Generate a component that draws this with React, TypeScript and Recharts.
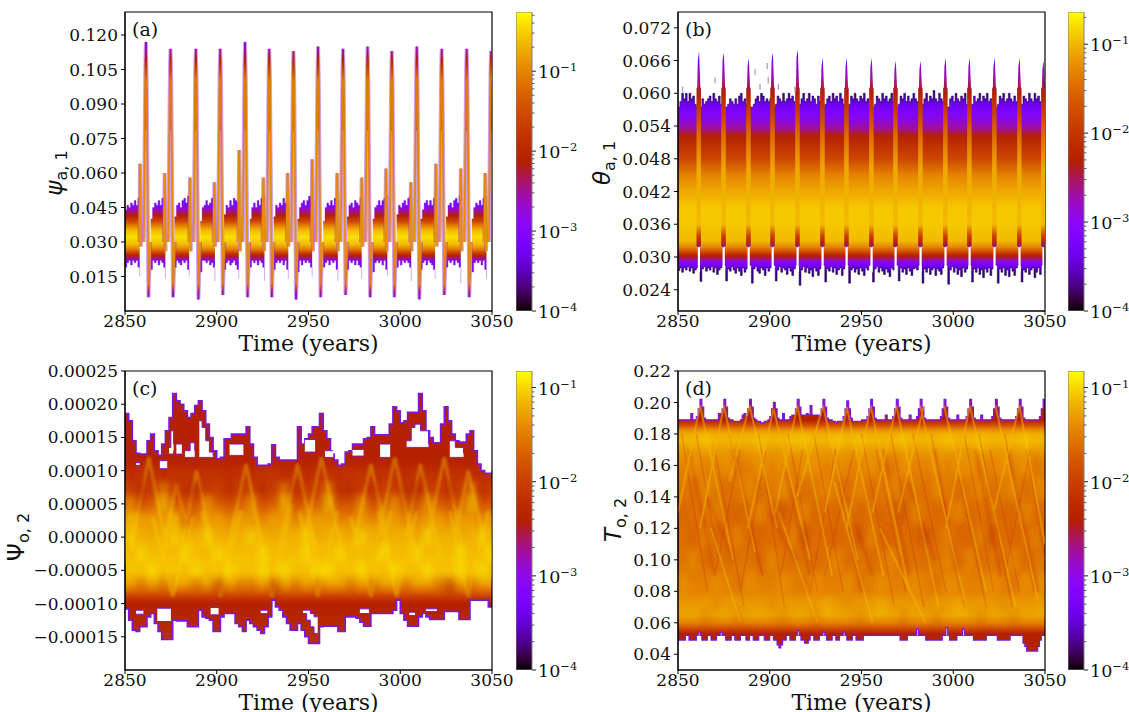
import React from "react";
import { Area, Bar, ComposedChart, Label, Line, ReferenceArea, Scatter, XAxis, YAxis } from "recharts";

const xTicks = [2850, 2900, 2950, 3000, 3050];
const serif = "DejaVu Serif";
const sans = "DejaVu Sans";

// panel (a): blob outline, one block per oscillation, null closes a block
const aBlobT = [
  2850, 2851, 2852, 2853, 2854, 2855, 2856, 2857, 2858, 2859,
  2864, 2865, 2866, 2867, 2868, 2869, 2870, 2871, 2872, 2873,
  2877, 2878, 2879, 2880, 2881, 2882, 2883, 2884, 2885, 2886,
  2891, 2892, 2893, 2894, 2895, 2896, 2897, 2898, 2899, 2900,
  2904, 2905, 2906, 2907, 2908, 2909, 2910, 2911, 2912, 2913,
  2918, 2919, 2920, 2921, 2922, 2923, 2924, 2925, 2926, 2927,
  2931, 2932, 2933, 2934, 2935, 2936, 2937, 2938, 2939, 2940,
  2944, 2945, 2946, 2947, 2948, 2949, 2950, 2951, 2952, 2953,
  2958, 2959, 2960, 2961, 2962, 2963, 2964, 2965, 2966, 2967,
  2971, 2972, 2973, 2974, 2975, 2976, 2977, 2978, 2979, 2980,
  2985, 2986, 2987, 2988, 2989, 2990, 2991, 2992, 2993, 2994,
  2998, 2999, 3000, 3001, 3002, 3003, 3004, 3005, 3006, 3007,
  3011, 3012, 3013, 3014, 3015, 3016, 3017, 3018, 3019, 3020,
  3025, 3026, 3027, 3028, 3029, 3030, 3031, 3032, 3033, 3034,
  3039, 3040, 3041, 3042, 3043, 3044, 3045, 3046, 3047, 3048,
];
const aBlobHi = [
  .044, .046, .045, .047, .046, .048, .046, .049, .050, null,
  .040, .045, .047, .046, .048, .046, .049, .047, .052, null,
  .041, .046, .047, .045, .048, .049, .047, .050, .049, null,
  .039, .045, .046, .048, .046, .047, .049, .047, .051, null,
  .042, .046, .045, .048, .046, .049, .048, .047, .050, null,
  .040, .045, .047, .045, .048, .046, .049, .050, .051, null,
  .041, .046, .045, .047, .046, .049, .047, .048, .050, null,
  .040, .045, .047, .048, .046, .048, .050, .049, .051, null,
  .039, .045, .047, .046, .048, .046, .049, .047, .050, null,
  .041, .046, .047, .045, .048, .047, .046, .049, .051, null,
  .040, .045, .046, .048, .046, .048, .049, .047, .050, null,
  .042, .046, .045, .047, .048, .046, .049, .050, .049, null,
  .040, .044, .047, .048, .046, .048, .046, .049, .052, null,
  .041, .046, .047, .045, .048, .049, .047, .050, .051, null,
  .040, .045, .047, .046, .048, .046, .049, .047, .050, null,
];
const aBlobLo = [
  .019, .021, .022, .020, .022, .021, .022, .019, .015, null,
  .018, .022, .021, .022, .020, .022, .021, .019, .014, null,
  .019, .022, .021, .020, .022, .021, .022, .018, .015, null,
  .017, .022, .022, .021, .022, .020, .021, .019, .013, null,
  .018, .021, .022, .020, .021, .022, .020, .018, .014, null,
  .019, .022, .021, .022, .020, .022, .021, .019, .013, null,
  .018, .021, .022, .021, .022, .020, .022, .018, .014, null,
  .017, .022, .020, .022, .021, .022, .021, .019, .015, null,
  .019, .021, .022, .020, .022, .021, .022, .018, .013, null,
  .018, .022, .021, .022, .020, .022, .020, .019, .014, null,
  .017, .021, .022, .021, .022, .020, .022, .018, .015, null,
  .019, .022, .020, .022, .021, .022, .021, .019, .013, null,
  .018, .021, .022, .020, .022, .021, .020, .018, .014, null,
  .019, .022, .021, .022, .020, .022, .021, .019, .012, null,
  .017, .021, .022, .021, .022, .020, .022, .018, .014, null,
];

// panel (a): the thin fast excursion of each oscillation
const aRidgeT = [
  2860.2, 2860.7, 2861.1, 2861.4, 2861.8, 2862.2, 2862.8, 2863.7, 2863.8,
  2873.6, 2874.1, 2874.5, 2874.8, 2875.2, 2875.6, 2876.2, 2877.1, 2877.2,
  2887.4, 2887.9, 2888.3, 2888.6, 2889.0, 2889.4, 2890.0, 2890.9, 2891.0,
  2900.7, 2901.2, 2901.6, 2901.9, 2902.3, 2902.7, 2903.3, 2904.2, 2904.3,
  2914.2, 2914.7, 2915.1, 2915.4, 2915.8, 2916.2, 2916.8, 2917.7, 2917.8,
  2927.4, 2927.9, 2928.3, 2928.6, 2929.0, 2929.4, 2930.0, 2930.9, 2931.0,
  2940.6, 2941.1, 2941.5, 2941.8, 2942.2, 2942.6, 2943.2, 2944.1, 2944.2,
  2954.0, 2954.5, 2954.9, 2955.2, 2955.6, 2956.0, 2956.6, 2957.5, 2957.6,
  2967.6, 2968.1, 2968.5, 2968.8, 2969.2, 2969.6, 2970.2, 2971.1, 2971.2,
  2981.0, 2981.5, 2981.9, 2982.2, 2982.6, 2983.0, 2983.6, 2984.5, 2984.6,
  2994.2, 2994.7, 2995.1, 2995.4, 2995.8, 2996.2, 2996.8, 2997.7, 2997.8,
  3007.8, 3008.3, 3008.7, 3009.0, 3009.4, 3009.8, 3010.4, 3011.3, 3011.4,
  3021.4, 3021.9, 3022.3, 3022.6, 3023.0, 3023.4, 3024.0, 3024.9, 3025.0,
  3035.0, 3035.5, 3035.9, 3036.2, 3036.6, 3037.0, 3037.6, 3038.5, 3038.6,
  3048.3, 3048.8, 3049.2, 3049.5, 3049.8, 3050.0, 3050.0, 3050.0, 3050.0,
];
const aRidgeV = [
  .030, .070, .105, .117, .100, .060, .006, .030, null,
  .030, .070, .104, .114, .100, .060, .006, .030, null,
  .030, .070, .104, .114, .100, .060, .005, .030, null,
  .030, .070, .104, .114, .100, .060, .007, .030, null,
  .030, .070, .105, .117, .100, .060, .006, .030, null,
  .030, .070, .104, .114, .100, .060, .006, .030, null,
  .030, .070, .103, .113, .100, .060, .005, .030, null,
  .030, .070, .104, .115, .100, .060, .006, .030, null,
  .030, .070, .104, .114, .100, .060, .007, .030, null,
  .030, .070, .104, .115, .100, .060, .006, .030, null,
  .030, .070, .103, .113, .100, .060, .006, .030, null,
  .030, .070, .104, .115, .100, .060, .005, .030, null,
  .030, .070, .104, .114, .100, .060, .007, .030, null,
  .030, .070, .104, .114, .100, .060, .006, .030, null,
  .030, .070, .104, .113, .100, null, null, null, null,
];
const aCoreT = [
  2860.6, 2861.4, 2862.2, 2862.3,
  2874.0, 2874.8, 2875.6, 2875.7,
  2887.8, 2888.6, 2889.4, 2889.5,
  2901.1, 2901.9, 2902.7, 2902.8,
  2914.6, 2915.4, 2916.2, 2916.3,
  2927.8, 2928.6, 2929.4, 2929.5,
  2941.0, 2941.8, 2942.6, 2942.7,
  2954.4, 2955.2, 2956.0, 2956.1,
  2968.0, 2968.8, 2969.6, 2969.7,
  2981.4, 2982.2, 2983.0, 2983.1,
  2994.6, 2995.4, 2996.2, 2996.3,
  3008.2, 3009.0, 3009.8, 3009.9,
  3021.8, 3022.6, 3023.4, 3023.5,
  3035.4, 3036.2, 3037.0, 3037.1,
  3048.7, 3049.5, 3050.0, 3050.0,
];
const aCoreHi = [
  .096, .112, .096, null, .096, .110, .096, null, .096, .110, .096, null,
  .096, .110, .096, null, .096, .112, .096, null, .096, .110, .096, null,
  .096, .109, .096, null, .096, .111, .096, null, .096, .110, .096, null,
  .096, .111, .096, null, .096, .109, .096, null, .096, .111, .096, null,
  .096, .110, .096, null, .096, .110, .096, null, .096, .109, .096, null,
];
const aCoreLo = [
  .080, .078, .080, null, .080, .078, .080, null, .080, .078, .080, null,
  .080, .078, .080, null, .080, .078, .080, null, .080, .078, .080, null,
  .080, .078, .080, null, .080, .078, .080, null, .080, .078, .080, null,
  .080, .078, .080, null, .080, .078, .080, null, .080, .078, .080, null,
  .080, .078, .080, null, .080, .078, .080, null, .080, .078, .080, null,
];
const aTowerT = [
  2857.8, 2858.2, 2858.7, 2859.0,
  2871.2, 2871.6, 2872.1, 2872.4,
  2885.0, 2885.4, 2885.9, 2886.2,
  2898.3, 2898.7, 2899.2, 2899.5,
  2911.8, 2912.2, 2912.7, 2913.0,
  2925.0, 2925.4, 2925.9, 2926.2,
  2938.2, 2938.6, 2939.1, 2939.4,
  2951.6, 2952.0, 2952.5, 2952.8,
  2965.2, 2965.6, 2966.1, 2966.4,
  2978.6, 2979.0, 2979.5, 2979.8,
  2991.8, 2992.2, 2992.7, 2993.0,
  3005.4, 3005.8, 3006.3, 3006.6,
  3019.0, 3019.4, 3019.9, 3020.2,
  3032.6, 3033.0, 3033.5, 3033.8,
  3045.9, 3046.3, 3046.8, 3047.1,
];
const aTowerV = [
  .030, .064, .028, null, .030, .060, .026, null, .030, .058, .026, null,
  .030, .056, .028, null, .030, .070, .026, null, .030, .058, .026, null,
  .030, .060, .028, null, .030, .066, .026, null, .030, .060, .026, null,
  .030, .058, .028, null, .030, .062, .026, null, .030, .056, .026, null,
  .030, .064, .028, null, .030, .062, .026, null, .030, .060, .026, null,
];

// panel (b): one value per year
const bHi = [
  .0575, .0585, .0600, .0590, .0600, .0585, .0600, .0590, .0595, .0580,
  .0575, .0575, .0575, .0590, .0580, .0585, .0590, .0595, .0585, .0600,
  .0590, .0585, .0595, .0580, .0575, .0575, .0575, .0580, .0590, .0585,
  .0580, .0590, .0580, .0595, .0600, .0585, .0590, .0580, .0575, .0575,
  .0575, .0580, .0590, .0595, .0585, .0600, .0595, .0585, .0590, .0585,
  .0590, .0575, .0575, .0580, .0595, .0590, .0585, .0600, .0585, .0590,
  .0600, .0590, .0595, .0585, .0575, .0575, .0580, .0590, .0600, .0585,
  .0590, .0600, .0585, .0595, .0590, .0580, .0595, .0585, .0575, .0575,
  .0580, .0590, .0595, .0585, .0600, .0590, .0595, .0585, .0600, .0590,
  .0580, .0575, .0575, .0580, .0595, .0590, .0600, .0590, .0585, .0595,
  .0590, .0600, .0585, .0590, .0580, .0575, .0575, .0580, .0595, .0590,
  .0585, .0600, .0590, .0595, .0585, .0590, .0600, .0585, .0575, .0575,
  .0580, .0595, .0590, .0600, .0585, .0595, .0585, .0590, .0600, .0590,
  .0585, .0575, .0575, .0580, .0590, .0600, .0585, .0595, .0590, .0605,
  .0590, .0585, .0600, .0590, .0585, .0575, .0575, .0575, .0590, .0595,
  .0585, .0600, .0590, .0585, .0595, .0590, .0600, .0580, .0575, .0575,
  .0580, .0595, .0585, .0590, .0600, .0585, .0595, .0590, .0600, .0585,
  .0590, .0580, .0575, .0575, .0580, .0595, .0590, .0600, .0585, .0590,
  .0600, .0590, .0585, .0595, .0585, .0575, .0575, .0580, .0595, .0590,
  .0585, .0600, .0590, .0585, .0600, .0590, .0595, .0585, .0580, .0575,
  .0575,
];
const bLo = [
  .0275, .0280, .0272, .0280, .0276, .0282, .0274, .0280, .0270, .0276,
  .0280, .0285, .0255, .0278, .0282, .0274, .0280, .0276, .0282, .0272,
  .0280, .0268, .0276, .0280, .0285, .0285, .0256, .0278, .0274, .0282,
  .0276, .0270, .0280, .0274, .0266, .0280, .0272, .0278, .0285, .0285,
  .0252, .0278, .0282, .0274, .0270, .0280, .0276, .0266, .0280, .0274,
  .0280, .0285, .0285, .0256, .0276, .0282, .0272, .0280, .0276, .0268,
  .0280, .0274, .0266, .0278, .0285, .0285, .0248, .0276, .0282, .0272,
  .0280, .0270, .0276, .0264, .0280, .0274, .0266, .0278, .0285, .0285,
  .0254, .0278, .0274, .0282, .0272, .0280, .0268, .0276, .0280, .0266,
  .0278, .0285, .0285, .0252, .0276, .0280, .0272, .0278, .0268, .0280,
  .0274, .0266, .0280, .0276, .0285, .0285, .0254, .0278, .0282, .0272,
  .0280, .0274, .0268, .0278, .0272, .0264, .0280, .0276, .0285, .0285,
  .0256, .0280, .0272, .0278, .0268, .0280, .0274, .0266, .0278, .0280,
  .0276, .0285, .0285, .0252, .0278, .0272, .0280, .0268, .0276, .0280,
  .0266, .0278, .0274, .0268, .0280, .0285, .0285, .0250, .0276, .0282,
  .0272, .0280, .0268, .0276, .0264, .0280, .0272, .0278, .0285, .0285,
  .0254, .0278, .0272, .0280, .0268, .0276, .0262, .0278, .0272, .0280,
  .0266, .0278, .0285, .0285, .0252, .0278, .0272, .0280, .0266, .0276,
  .0264, .0280, .0274, .0266, .0280, .0285, .0285, .0254, .0276, .0272,
  .0280, .0268, .0276, .0280, .0262, .0272, .0280, .0268, .0285, .0285,
  .0265,
];
// spike columns of (b): [left, shoulder, crest, right, gap]
const bSpikeT = [
  2860.3, 2860.8, 2861.5, 2862.3, 2862.4,
  2873.8, 2874.3, 2875.0, 2875.8, 2875.9,
  2887.4, 2887.9, 2888.6, 2889.4, 2889.5,
  2900.5, 2901.0, 2901.7, 2902.5, 2902.6,
  2914.1, 2914.6, 2915.3, 2916.1, 2916.2,
  2927.7, 2928.2, 2928.9, 2929.7, 2929.8,
  2940.8, 2941.3, 2942.0, 2942.8, 2942.9,
  2954.4, 2954.9, 2955.6, 2956.4, 2956.5,
  2967.5, 2968.0, 2968.7, 2969.5, 2969.6,
  2981.1, 2981.6, 2982.3, 2983.1, 2983.2,
  2994.7, 2995.2, 2995.9, 2996.7, 2996.8,
  3007.8, 3008.3, 3009.0, 3009.8, 3009.9,
  3021.4, 3021.9, 3022.6, 3023.4, 3023.5,
  3035.0, 3035.5, 3036.2, 3037.0, 3037.1,
  3048.1, 3048.6, 3049.3, 3050.0, 3050.0,
];
const bSpikeHi = [
  .0590, .0660, .0676, .0600, null,
  .0590, .0660, .0675, .0600, null,
  .0590, .0650, .0665, .0600, null,
  .0590, .0660, .0675, .0600, null,
  .0590, .0665, .0680, .0600, null,
  .0590, .0650, .0665, .0600, null,
  .0590, .0650, .0665, .0600, null,
  .0590, .0650, .0665, .0600, null,
  .0590, .0645, .0660, .0600, null,
  .0590, .0645, .0660, .0600, null,
  .0590, .0650, .0665, .0600, null,
  .0590, .0650, .0665, .0600, null,
  .0590, .0650, .0665, .0600, null,
  .0590, .0650, .0665, .0600, null,
  .0590, .0645, .0660, .0600, null,
];
const bSpikeLo = [
  .0320, .0318, .0318, .0320, null, .0320, .0318, .0318, .0320, null, .0320, .0318, .0318, .0320, null,
  .0320, .0318, .0318, .0320, null, .0320, .0318, .0318, .0320, null, .0320, .0318, .0318, .0320, null,
  .0320, .0318, .0318, .0320, null, .0320, .0318, .0318, .0320, null, .0320, .0318, .0318, .0320, null,
  .0320, .0318, .0318, .0320, null, .0320, .0318, .0318, .0320, null, .0320, .0318, .0318, .0320, null,
  .0320, .0318, .0318, .0320, null, .0320, .0318, .0318, .0320, null, .0320, .0318, .0318, .0320, null,
];
// bright core of each spike: bottom, top, gap
const bColT = [
  2861.3, 2861.3, 2861.4, 2874.8, 2874.8, 2874.9, 2888.4, 2888.4, 2888.5, 2901.5, 2901.5, 2901.6, 2915.1, 2915.1, 2915.2,
  2928.7, 2928.7, 2928.8, 2941.8, 2941.8, 2941.9, 2955.4, 2955.4, 2955.5, 2968.5, 2968.5, 2968.6, 2982.1, 2982.1, 2982.2,
  2995.7, 2995.7, 2995.8, 3008.8, 3008.8, 3008.9, 3022.4, 3022.4, 3022.5, 3036.0, 3036.0, 3036.1, 3049.1, 3049.1, 3049.2,
];
const bColV = [
  .032, .061, null, .032, .061, null, .032, .061, null, .032, .061, null, .032, .061, null,
  .032, .061, null, .032, .061, null, .032, .061, null, .032, .061, null, .032, .061, null,
  .032, .061, null, .032, .061, null, .032, .061, null, .032, .061, null, .032, .061, null,
];
const bSlitT = [
  2860.8, 2862.0, 2862.1, 2874.3, 2875.5, 2875.6, 2887.9, 2889.1, 2889.2, 2901.0, 2902.2, 2902.3,
  2914.6, 2915.8, 2915.9, 2928.2, 2929.4, 2929.5, 2941.3, 2942.5, 2942.6, 2954.9, 2956.1, 2956.2,
  2968.0, 2969.2, 2969.3, 2981.6, 2982.8, 2982.9, 2995.2, 2996.4, 2996.5, 3008.3, 3009.5, 3009.6,
  3021.9, 3023.1, 3023.2, 3035.5, 3036.7, 3036.8, 3048.6, 3049.8, 3049.9,
];
const bStrayT = [2852.5, 2870.2, 2892, 2894.7, 2899.2, 2904.7, 2913.7, 2898.6];
const bStrayV = [.0607, .0624, .0639, .0612, .0624, .0612, .0607, .0650];

// panel (c): 2-year bins, values in units of 1e-5
const cT = [
  2850, 2852, 2854, 2856, 2858, 2860, 2862, 2864, 2866, 2868, 2870, 2872, 2874, 2876, 2878, 2880, 2882,
  2884, 2886, 2888, 2890, 2892, 2894, 2896, 2898, 2900, 2902, 2904, 2906, 2908, 2910, 2912, 2914, 2916,
  2918, 2920, 2922, 2924, 2926, 2928, 2930, 2932, 2934, 2936, 2938, 2940, 2942, 2944, 2946, 2948, 2950,
  2952, 2954, 2956, 2958, 2960, 2962, 2964, 2966, 2968, 2970, 2972, 2974, 2976, 2978, 2980, 2982, 2984,
  2986, 2988, 2990, 2992, 2994, 2996, 2998, 3000, 3002, 3004, 3006, 3008, 3010, 3012, 3014, 3016, 3018,
  3020, 3022, 3024, 3026, 3028, 3030, 3032, 3034, 3036, 3038, 3040, 3042, 3044, 3046, 3048, 3050,
];
const cTop = [
  18.6, 17.5, 14.5, 12.6, 12.5, 12.5, 14.5, 15.5, 13, 12.3, 14, 16, 18, 21.6, 20.5, 20, 19,
  18, 18.6, 19.8, 20.5, 19, 17, 15, 13, 11.8, 12, 14.8, 14.8, 15.5, 15.5, 15.5, 15.5, 16.6,
  14, 12, 10.8, 10.8, 10.8, 11, 13.9, 12, 11.6, 11.6, 11.6, 11.6, 11.6, 16.6, 14, 14.8, 15.5,
  16.6, 16.6, 18.6, 16, 14.8, 12.5, 11.6, 10.8, 11, 12.8, 13, 14, 14, 14, 14.8, 15, 16.6,
  15.4, 15.4, 15.4, 15.4, 17, 19.6, 19, 17.2, 17.5, 18.8, 18.8, 18.8, 21.6, 19, 16, 15, 14.2,
  14.2, 17, 19.6, 17.5, 15.5, 14.5, 14.3, 14.3, 15.5, 16, 13, 11, 10, 9.6, 9.6, 10,
];
const cBottom = [
  -10.8, -12.5, -14, -14.2, -13.5, -13.5, -12, -11.5, -13, -14.2, -15.4, -15.4, -15.4, -12.5, -12.6, -12.6, -12.6,
  -13.5, -13.5, -13.5, -11, -12, -12.2, -12.5, -14.2, -14.2, -12, -11.5, -11.5, -11.5, -13, -13.5, -14.2, -12.5,
  -13, -13.5, -14, -14.5, -13.5, -12, -9.5, -10.5, -11, -12, -13, -14, -14, -13, -14, -15, -16,
  -16, -16, -13.5, -13.4, -13.4, -13.4, -13.4, -14.2, -14.2, -12, -12, -12, -12.2, -12.8, -13.4, -13.4, -11.5,
  -11.5, -11.5, -11.5, -11.5, -11.5, -11, -9.5, -11.5, -12.5, -13.4, -13.4, -13.4, -12, -11.5, -12, -12.4, -12.4,
  -12.4, -12.4, -11.2, -11.2, -11.2, -11.2, -12.4, -12.4, -12.4, -9.5, -9.5, -9.5, -9.5, -9.5, -10.5, -10.5,
];
// white gaps between the tracks of (c): each block [t, low, high], null closes it
const cHoleT = [
  2856, 2858, 2858.1, 2869, 2873, 2873.1, 2874, 2875, 2876.5, 2876.6, 2878, 2881, 2881.1, 2882.7, 2885.5, 2888, 2888.1,
  2890.5, 2892, 2894, 2896, 2898, 2898.1, 2907, 2914.5, 2914.6, 2948, 2953.6, 2953.7, 2959, 2963.5, 2963.6,
  2974, 2980, 2980.1, 2989, 2994.5, 2994.6, 3003.5, 3006, 3008, 3011, 3015.4, 3015.5, 3027, 3030, 3034.5, 3034.6,
  2867.6, 2875, 2875.1, 2896.7, 2901, 2901.1, 2924, 2927.5, 2927.6, 2947, 2949, 2951, 2953, 2955, 2955.1,
  2978, 2983, 2983.1, 3005, 3008, 3008.1, 2856, 2860, 2860.1, 3014, 3020, 3020.1,
];
const cHoleLo = [
  10.8, 10.8, null, 10.3, 10.3, null, 12.5, 12.5, 13, null, 12.5, 12.5, null, 12, 12, 12, null,
  12, 12, 12, 12, 12, null, 12.3, 12.3, null, 12.8, 12.8, null, 12, 12, null,
  12.2, 12.2, null, 12, 12, null, 13.5, 13.5, 13.5, 13.5, 13.5, null, 12, 12, 12, null,
  -12.7, -12.7, null, -11.7, -11.7, null, -11.5, -11.5, null, -11.5, -12.5, -13.5, -14.5, -14.5, null,
  -11.5, -11.5, null, -11.8, -11.8, null, -11.6, -11.6, null, -11.2, -11.2, null,
];
const cHoleHi = [
  11.2, 11.2, null, 11.5, 11.5, null, 13.5, 16, 14, null, 14, 14, null, 13, 14.2, 13, null,
  17.5, 16.5, 14.5, 12.8, 12.2, null, 14, 14, null, 14.7, 14.7, null, 13, 13, null,
  13.2, 13.2, null, 14, 14, null, 14.5, 16.5, 17, 16, 14, null, 14.5, 13.5, 12.6, null,
  -10.7, -10.7, null, -10.6, -10.6, null, -11, -11, null, -11, -11, -11.5, -12, -12, null,
  -10.8, -10.8, null, -11.3, -11.3, null, -11, -11, null, -10.8, -10.8, null,
];
const cGlowT = [
  2863, 2853, 2853, 2863, 2873, 2873, 2878, 2870, 2870, 2878, 2888, 2888, 2889, 2881, 2881, 2889, 2899, 2899,
  2916, 2905, 2905, 2916, 2927, 2927, 2944, 2934, 2934, 2944, 2955, 2955, 2957, 2948, 2948, 2957, 2969, 2969,
  2984, 2974, 2974, 2984, 2995, 2995, 2997, 2988, 2988, 2997, 3008, 3008, 3011, 3003, 3003, 3011, 3022, 3022,
  3024, 3015, 3015, 3024, 3035, 3035, 3037, 3029, 3029, 3037, 3048, 3048,
  2876, 2865, 2865, 2876, 2887, 2887, 2902, 2892, 2892, 2902, 2913, 2913, 2930, 2920, 2920, 2930, 2941, 2941,
  2955, 2945, 2945, 2955, 2966, 2966, 2984, 2973, 2973, 2984, 2995, 2995, 3037, 3027, 3027, 3037, 3048, 3048,
  2998, 2988, 2988, 2998, 3009, 3009,
];
const cGlowV = [
  12, -2, null, 12, -2, null, 8, -3, null, 8, -3, null, 10, -1, null, 10, -3, null,
  11, -3, null, 11, -4, null, 11, -2, null, 11, -3, null, 12, 0, null, 12, -3, null,
  11, -2, null, 11, -3, null, 12, 0, null, 12, -2, null, 11, 0, null, 11, -3, null,
  12, 0, null, 12, -3, null, 10, -1, null, 10, -3, null,
  -9, 3, null, -9, 3, null, -9, 4, null, -9, 4, null, -9, 5, null, -9, 5, null,
  -9, 4, null, -9, 4, null, -9, 3, null, -9, 4, null, -9, 4, null, -9, 4, null,
  -9, 4, null, -9, 4, null,
];
const patchCols = [
  2853, 2859, 2865, 2871, 2877, 2883, 2889, 2895, 2901, 2907, 2913, 2919, 2925, 2931, 2937, 2943, 2949,
  2955, 2961, 2967, 2973, 2979, 2985, 2991, 2997, 3003, 3009, 3015, 3021, 3027, 3033, 3039, 3045, 3049,
];
// blotches of (c), rows top to bottom: minus is darker, plus is brighter than the ramp
const cPatchRows = [9, 7, 5, 2.5, 0, -2.5, -5, -7.5];
const cPatches = [
  [0, -1, -1, 0, -1, -1, 0, -1, -1, 0, -1, 0, -1, -1, 0, -1, 0, -1, -1, 0, -1, -1, 0, -1, -1, 0, -1, -1, 0, -1, -1, 0, 0, 0],
  [-1, -2, -1, 1, -1, -2, -2, 0, -1, -2, -1, 0, -2, -1, 1, -2, -1, -1, 1, -2, -2, 0, -2, -1, 0, -2, -2, 0, -1, -2, -1, 1, -2, -1],
  [1, -1, 0, 2, 0, -1, -1, 1, 0, -1, 0, 1, -1, 0, 2, -1, 0, 0, 2, -1, -1, 1, -1, 0, 1, -1, -1, 1, 0, -1, 0, 2, -1, 0],
  [2, 1, 1, 1, 2, -1, 0, 1, 1, 0, 1, 1, 0, 1, 1, 0, 1, 1, 1, 0, 0, 1, 0, 1, 1, 0, 0, 1, 1, 0, 1, 1, 0, 1],
  [2, 1, 0, 1, 2, 0, 1, 2, 1, 0, 1, 2, 1, 0, 1, 1, 2, 0, 1, 1, 0, 2, 1, 0, 1, 1, 0, 2, 1, 1, 0, 1, 2, 1],
  [1, 2, 1, 0, 1, 2, 1, 1, 2, 1, 0, 1, 2, 1, 1, 0, 2, 1, 1, 2, 1, 1, 0, 2, 1, 1, 2, 1, 0, 1, 2, 1, 1, 2],
  [0, 1, 2, 1, 0, 1, 2, 1, 1, 2, 1, 1, 2, 1, 2, 1, 1, 2, 2, 1, 1, 2, 1, 1, 2, 1, 1, 2, 1, 1, 2, 1, 2, 1],
  [0, -1, 0, -1, 0, 0, -1, 0, -2, 0, -1, -1, 0, -2, 0, -1, 0, -1, 0, 0, -1, 0, -1, 0, 0, -1, 0, 0, -1, -2, 0, -1, 0, 0],
];

// panel (d): one value per year
const dTop = [
  .189, .189, .189, .189, .189, .189, .189, .193, .189, .189,
  .191, .196, .202, .197, .190, .189, .189, .189, .189, .189,
  .189, .189, .193, .193, .196, .202, .197, .190, .189, .189,
  .188, .188, .188, .188, .189, .192, .193, .191, .196, .202,
  .197, .190, .189, .188, .188, .187, .187, .188, .188, .189,
  .191, .196, .200, .196, .190, .189, .189, .193, .189, .189,
  .189, .191, .192, .192, .196, .202, .197, .192, .192, .192,
  .193, .192, .198, .192, .192, .192, .192, .191, .196, .202,
  .197, .190, .189, .189, .188, .188, .187, .188, .188, .188,
  .191, .196, .201, .196, .190, .188, .188, .188, .188, .188,
  .189, .189, .189, .191, .196, .202, .197, .190, .189, .189,
  .189, .189, .189, .192, .189, .189, .189, .191, .196, .202,
  .197, .190, .189, .189, .189, .189, .192, .189, .189, .189,
  .191, .196, .202, .197, .190, .189, .189, .189, .189, .189,
  .189, .189, .189, .191, .196, .202, .197, .190, .189, .189,
  .189, .189, .192, .189, .189, .189, .189, .191, .196, .202,
  .197, .190, .189, .189, .189, .192, .189, .189, .189, .189,
  .189, .191, .196, .202, .197, .190, .189, .189, .189, .189,
  .189, .189, .189, .189, .191, .196, .202, .197, .190, .189,
  .189, .189, .189, .189, .189, .189, .189, .191, .196, .202,
  .198,
];
const dBottom = [
  .049, .049, .049, .049, .052, .052, .049, .049, .049, .049,
  .052, .054, .052, .049, .049, .049, .052, .052, .049, .049,
  .049, .052, .052, .054, .052, .052, .049, .049, .049, .052,
  .052, .049, .049, .049, .052, .052, .052, .049, .049, .052,
  .052, .049, .049, .049, .052, .052, .052, .049, .049, .049,
  .052, .052, .049, .049, .046, .044, .046, .049, .049, .052,
  .052, .049, .049, .049, .052, .055, .052, .049, .049, .047,
  .047, .049, .052, .052, .049, .049, .049, .052, .052, .054,
  .052, .049, .049, .049, .052, .052, .049, .049, .052, .052,
  .054, .052, .049, .049, .049, .052, .052, .049, .049, .049,
  .049, .052, .052, .052, .052, .052, .052, .052, .052, .052,
  .052, .052, .052, .052, .052, .052, .052, .052, .052, .052,
  .052, .049, .049, .049, .049, .052, .052, .052, .052, .052,
  .056, .052, .052, .052, .052, .049, .049, .049, .049, .049,
  .049, .049, .049, .049, .052, .052, .057, .052, .049, .049,
  .049, .049, .052, .052, .052, .056, .052, .052, .052, .052,
  .052, .049, .049, .049, .049, .049, .049, .049, .052, .052,
  .052, .052, .052, .052, .049, .049, .049, .049, .049, .049,
  .049, .052, .052, .052, .052, .052, .052, .052, .047, .045,
  .042, .042, .042, .042, .042, .042, .045, .049, .052, .052,
  .052,
];
const dGlowT = [
  2862, 2850, 2850, 2862, 2880, 2880, 2875, 2862, 2862, 2875, 2892, 2892, 2889, 2878, 2878, 2889, 2904, 2904,
  2902, 2888, 2888, 2902, 2922, 2922, 2915, 2903, 2903, 2915, 2934, 2934, 2929, 2915, 2915, 2929, 2948, 2948,
  2942, 2930, 2930, 2942, 2962, 2962, 2955, 2942, 2942, 2955, 2976, 2976, 2969, 2956, 2956, 2969, 2992, 2992,
  2982, 3006, 3006, 2995, 3018, 3018, 3009, 3034, 3034, 3023, 3046, 3046, 3036, 3050, 3050, 2984, 2970, 2970,
  3009, 2996, 2996, 3036, 3022, 3022, 2868, 2884, 2884, 2935, 2956, 2956, 2905, 2926, 2926, 2960, 2985, 2985,
];
const dGlowV = [
  .198, .13, null, .198, .10, null, .198, .12, null, .198, .105, null, .198, .15, null, .198, .12, null,
  .196, .12, null, .196, .10, null, .198, .13, null, .198, .09, null, .198, .14, null, .198, .10, null,
  .197, .13, null, .197, .09, null, .198, .12, null, .198, .08, null, .198, .13, null, .198, .07, null,
  .198, .075, null, .198, .08, null, .198, .07, null, .198, .075, null, .198, .11, null, .198, .13, null,
  .198, .12, null, .198, .13, null, .12, .06, null, .15, .06, null, .13, .06, null, .12, .06, null,
];
const dEmberT = [
  2856, 2870, 2870, 2880, 2896, 2896, 2908, 2922, 2922, 2935, 2950, 2950, 2962, 2976, 2976, 2990, 3004, 3004,
  3012, 3026, 3026, 3030, 3046, 3046, 2866, 2880, 2880, 2900, 2914, 2914, 2942, 2956, 2956, 2975, 2990, 2990,
];
const dEmberV = [
  .17, .09, null, .17, .09, null, .16, .09, null, .17, .08, null, .17, .09, null, .17, .08, null,
  .17, .09, null, .17, .08, null, .14, .10, null, .13, .10, null, .14, .09, null, .15, .10, null,
];
// thin hair lines of (d)
const dHairT = [
  2852, 2866, 2866, 2860, 2872, 2872, 2870, 2886, 2886, 2878, 2896, 2896, 2884, 2870, 2870, 2894, 2908, 2908,
  2898, 2884, 2884, 2910, 2926, 2926, 2918, 2906, 2906, 2924, 2940, 2940, 2936, 2922, 2922, 2946, 2930, 2930,
  2950, 2968, 2968, 2958, 2974, 2974, 2966, 2984, 2984, 2978, 2996, 2996, 2988, 3006, 3006, 3000, 3018, 3018,
  3006, 3022, 3022, 3014, 3032, 3032, 3020, 3036, 3036, 3028, 3044, 3044, 3040, 3050, 3050, 3042, 3028, 3028,
];
const dHairV = [
  .18, .08, null, .18, .10, null, .17, .07, null, .18, .09, null, .17, .09, null, .18, .07, null,
  .17, .08, null, .18, .08, null, .17, .09, null, .18, .08, null, .17, .08, null, .17, .09, null,
  .18, .07, null, .17, .08, null, .18, .07, null, .18, .08, null, .18, .07, null, .17, .07, null,
  .18, .08, null, .18, .07, null, .17, .08, null, .18, .08, null, .17, .10, null, .17, .09, null,
];
const dPatchRows = [.175, .16, .145, .13, .115, .10, .085, .07, .062];
const dPatches = [
  [1, 1, 2, 1, 1, 0, 1, 2, 1, 1, 2, 2, 1, 1, 2, 1, 2, 1, 1, 1, 2, 1, 1, 1, 2, 1, 1, 2, 1, 1, 1, 2, 1, 1],
  [0, 1, 0, 0, 1, -1, 0, 1, 0, 1, 0, 1, 1, 0, 1, 0, 0, 1, 0, -1, 1, 0, 0, 1, 0, 1, 1, 0, 0, 1, 0, 1, -1, 0],
  [0, -1, 1, 0, -1, 0, 1, -1, 0, 1, 0, -1, 0, 1, 0, -1, 1, -1, 0, 1, -1, 0, -1, 1, 0, -1, 0, 1, -1, 0, 1, -1, 0, 1],
  [-1, 0, 0, 1, -1, -1, 0, 1, -1, -2, 0, 1, -1, 0, -1, 1, -1, 0, -1, 0, -2, 1, 0, -1, 0, 1, -1, 0, 0, -1, -1, 1, 0, -1],
  [0, -1, 1, -1, 0, 1, -1, -1, 0, -1, 1, -2, 0, -1, -1, 0, -2, 1, -1, -1, 0, -1, -2, 0, 1, -1, -1, 1, -2, 0, -1, 0, 1, -1],
  [0, 1, -1, 0, -1, 0, 0, -1, 1, 0, -1, 0, -1, 0, 1, -1, 0, -1, 0, 1, -1, 0, -1, 0, 1, -1, 1, -1, 0, -1, 1, -1, 0, 0],
  [1, 0, 0, 1, 0, -1, 1, 0, 0, 1, 0, -1, 1, 0, 0, 1, -1, 0, 1, 0, 0, 1, 0, -1, 1, 1, 0, 0, 1, 0, -1, 1, 0, 1],
  [1, 1, 1, 0, 1, 1, 1, 1, 0, 1, 1, 1, 1, 2, 1, 0, 1, 1, 2, 1, 1, 1, 0, 1, 1, 2, 1, 1, 1, 0, 1, 1, 1, 1],
  [0, 0, -1, 0, 0, -1, 0, 0, 0, -1, 0, 0, -1, 0, 0, 0, -1, 0, 0, 0, -1, 0, 0, -1, 0, 0, 0, -1, 0, 0, -1, 0, 0, 0],
];

const aTicks = [.015, .03, .045, .06, .075, .09, .105, .12];
const bTicks = [.024, .03, .036, .042, .048, .054, .06, .066, .072];
const cTicks = [-15, -10, -5, 0, 5, 10, 15, 20, 25];
const dTicks = [.04, .06, .08, .1, .12, .14, .16, .18, .2, .22];
const cbarTicks = [
  1e-4, 2e-4, 3e-4, 4e-4, 5e-4, 6e-4, 7e-4, 8e-4, 9e-4, 1e-3, 2e-3, 3e-3, 4e-3, 5e-3, 6e-3, 7e-3, 8e-3, 9e-3,
  1e-2, 2e-2, 3e-2, 4e-2, 5e-2, 6e-2, 7e-2, 8e-2, 9e-2, 1e-1, 2e-1, 3e-1, 4e-1, 5e-1,
];

const PLOT_TOP = 12;
const PLOT_H = 299;

const series = (ts: number[], vs: (number | null)[]) => ts.map((t, i) => ({ t, v: vs[i] }));
const bands = (ts: number[], lo: (number | null)[], hi: (number | null)[]) =>
  ts.map((t, i) => ({ t, range: hi[i] == null || lo[i] == null ? null : [lo[i], hi[i]] }));
const yearly = (vals: number[]) => vals.map((_, i) => 2850 + i);
const cells = (rows: number[], m: number[][]) =>
  rows.flatMap((v, r) => patchCols.map((t, c) => ({ t, v, shade: m[r][c] }))).filter((d) => d.shade !== 0);

function gnuplot(x: number) {
  const c = (v: number) => Math.round(255 * Math.min(1, Math.max(0, v)));
  return `rgb(${c(Math.sqrt(x))},${c(x * x * x)},${c(Math.sin(2 * Math.PI * x))})`;
}

// vertical colour ramp laid out in value space of a panel
function Ramp({ id, domain, stops }: { id: string; domain: number[]; stops: [number, string][] }) {
  const off = (v: number) => Math.min(1, Math.max(0, (domain[1] - v) / (domain[1] - domain[0])));
  return (
    <linearGradient id={id} gradientUnits="userSpaceOnUse" x1={0} x2={0} y1={PLOT_TOP} y2={PLOT_TOP + PLOT_H}>
      {stops.map(([v, col]) => (
        <stop key={v} offset={off(v)} stopColor={col} />
      ))}
    </linearGradient>
  );
}

const softDefs = (
  <>
    <filter id="soft" x="-20%" y="-20%" width="140%" height="140%">
      <feGaussianBlur stdDeviation="1.1" />
    </filter>
    <filter id="hair" x="-20%" y="-20%" width="140%" height="140%">
      <feGaussianBlur stdDeviation="0.6" />
    </filter>
    <filter id="patch" x="-60%" y="-60%" width="220%" height="220%">
      <feGaussianBlur stdDeviation="3" />
    </filter>
  </>
);

const patchFill: Record<string, [string, number]> = {
  "2": ["#fae000", 0.5],
  "1": ["#f5b800", 0.38],
  "-1": ["#c83c00", 0.32],
  "-2": ["#b42000", 0.5],
};

const patchShape = (w: number, h: number, fade: number) => (p: any) => {
  const [col, op] = patchFill[String(p.payload.shade)];
  return <rect x={p.cx - w / 2} y={p.cy - h / 2} width={w} height={h} fill={col} fillOpacity={op * fade} filter="url(#patch)" />;
};

function Axes({ domain, ticks, fmt }: { domain: number[]; ticks: number[]; fmt: (v: number) => string }) {
  const tick = { fontFamily: serif, fontSize: 17, fill: "#111" };
  return (
    <>
      <XAxis dataKey="t" type="number" domain={[2850, 3050]} ticks={xTicks} interval={0} height={49} tick={tick}
        tickSize={4} tickMargin={0} stroke="#000" allowDataOverflow>
        <Label value="Time (years)" position="insideBottom" offset={9}
          style={{ fontFamily: serif, fontSize: 22, fill: "#111" }} />
      </XAxis>
      <YAxis type="number" domain={domain} ticks={ticks} interval={0} width={125} tick={tick} tickFormatter={fmt}
        tickSize={4} tickMargin={3} stroke="#000" allowDataOverflow />
      <ReferenceArea x1={2850} x2={3050} y1={domain[0]} y2={domain[1]} fill="none" stroke="#000" strokeWidth={1.2}
        fillOpacity={0} strokeOpacity={1} />
    </>
  );
}

function Caption({ text }: { text: string }) {
  return (
    <text x={132} y={36} fontFamily={serif} fontSize={19} fill="#111">
      {text}
    </text>
  );
}

function AxisName({ x, y, main, sub, italic }: { x: number; y: number; main: string; sub: string; italic: boolean }) {
  return (
    <text transform={`translate(${x},${y}) rotate(-90)`} textAnchor="middle" fontFamily={sans} fontSize={23} fill="#111">
      <tspan fontStyle={italic ? "italic" : "normal"}>{main}</tspan>
      <tspan fontSize={16} dy={5}>{sub}</tspan>
    </text>
  );
}

function ColorBar({ left, top, vmax, id }: { left: number; top: number; vmax: number; id: string }) {
  const renderTick = (p: any) => {
    const v = p.payload.value;
    const exp = Math.log10(v);
    const major = Math.abs(exp - Math.round(exp)) < 1e-6;
    if (v > vmax) return <g />;
    return (
      <g>
        <line x1={p.x} x2={p.x + (major ? 4 : 2.5)} y1={p.y} y2={p.y} stroke="#222" strokeWidth={major ? 1 : 0.7} />
        {major && (
          <text x={p.x + 6} y={p.y + 7} fontFamily={serif} fontSize={17.5} fill="#111">
            10
            <tspan fontSize={11.5} dy={-7}>{"\u2212" + Math.abs(Math.round(exp))}</tspan>
          </text>
        )}
      </g>
    );
  };
  return (
    <div style={{ position: "absolute", left, top }}>
      <ComposedChart width={76} height={331} margin={{ top: PLOT_TOP, right: 0, bottom: 20, left: 0 }}
        data={[{ k: "bar", span: [1e-4, vmax] }]} barCategoryGap={0}>
        <defs>
          <linearGradient id={id} x1={0} x2={0} y1={1} y2={0}>
            {Array.from({ length: 41 }, (_, i) => (
              <stop key={i} offset={i / 40} stopColor={gnuplot(i / 40)} />
            ))}
          </linearGradient>
        </defs>
        <XAxis dataKey="k" hide />
        <YAxis orientation="right" scale="log" domain={[1e-4, vmax]} ticks={cbarTicks} interval={0} width={60}
          tick={renderTick} tickLine={false} axisLine={false} tickSize={0} tickMargin={0} allowDataOverflow />
        <Bar dataKey="span" fill={`url(#${id})`} stroke="#808080" strokeWidth={1} isAnimationActive={false} />
      </ComposedChart>
    </div>
  );
}

const chartProps = { width: 540, height: 360, margin: { top: PLOT_TOP, right: 48, bottom: 0, left: 0 } };
const noDots = { dot: false, activeDot: false, isAnimationActive: false, legendType: "none" as const };

function PanelA() {
  const domain = [0, 0.13];
  return (
    <div style={{ position: "absolute", left: 0, top: 0 }}>
      <ComposedChart {...chartProps} data={bands(aBlobT, aBlobLo, aBlobHi)}>
        <defs>
          <Ramp id="aBody" domain={domain} stops={[
            [.05, "#6a10e0"], [.0455, "#8004ff"], [.0435, "#a11096"], [.0415, "#b42000"], [.039, "#cd4600"],
            [.037, "#e48300"], [.035, "#f2ba00"], [.032, "#fae000"], [.029, "#f2ba00"], [.027, "#e48300"],
            [.0255, "#cd4600"], [.024, "#b42000"], [.0228, "#a11096"], [.0215, "#8004ff"], [.013, "#7a20e0"],
          ]} />
          <Ramp id="aLine" domain={domain} stops={[
            [.117, "#6a10e0"], [.113, "#a11096"], [.109, "#b42000"], [.10, "#e07a00"], [.03, "#e8900a"],
            [.012, "#e07a20"], [.008, "#a11096"], [.005, "#8004ff"],
          ]} />
          <Ramp id="aCore" domain={domain} stops={[[.112, "#cd4600"], [.106, "#e48300"], [.098, "#efa000"], [.085, "#e48300"], [.078, "#b42000"]]} />
        </defs>
        <Area dataKey="range" type="stepAfter" fill="url(#aBody)" fillOpacity={1} stroke="#7a20d0" strokeWidth={0.6} strokeOpacity={0.6}
          isAnimationActive={false} legendType="none" />
        <Line data={series(aTowerT, aTowerV)} dataKey="v" stroke="#a040d0" strokeOpacity={0.5} strokeWidth={4} {...noDots} />
        <Line data={series(aRidgeT, aRidgeV)} dataKey="v" stroke="#a040d0" strokeOpacity={0.5} strokeWidth={4} {...noDots} />
        <Line data={series(aTowerT, aTowerV)} dataKey="v" stroke="url(#aLine)" strokeWidth={2.2} {...noDots} />
        <Line data={series(aRidgeT, aRidgeV)} dataKey="v" stroke="url(#aLine)" strokeWidth={1.8} {...noDots} />
        <Area data={bands(aCoreT, aCoreLo, aCoreHi)} dataKey="range" type="linear" fill="url(#aCore)" fillOpacity={1} stroke="none"
          isAnimationActive={false} legendType="none" />
        <Axes domain={domain} ticks={aTicks} fmt={(v) => v.toFixed(3)} />
        <Caption text="(a)" />
        <AxisName x={62} y={173} main={"\u03c8"} sub="a, 1" italic />
      </ComposedChart>
    </div>
  );
}

function PanelB() {
  const domain = [0.0201, 0.0749];
  return (
    <div style={{ position: "absolute", left: 553, top: 0 }}>
      <ComposedChart {...chartProps} data={bands(yearly(bHi), bLo, bHi)}>
        <defs>
          <Ramp id="bBody" domain={domain} stops={[
            [.0605, "#3a0090"], [.059, "#5000c0"], [.058, "#7000f0"], [.0565, "#8004ff"], [.0550, "#8a08e0"], [.0535, "#a11096"], [.0522, "#b42000"],
            [.048, "#cd4600"], [.045, "#e48300"], [.042, "#efa800"], [.039, "#f5c800"], [.036, "#f5c800"], [.033, "#f2ba00"],
            [.0318, "#e48300"], [.0309, "#cd4600"], [.0302, "#b42000"], [.0295, "#a11096"], [.029, "#8004ff"], [.0282, "#7000f0"], [.0272, "#3a0090"],
          ]} />
          <Ramp id="bSpike" domain={domain} stops={[
            [.068, "#2a0060"], [.066, "#8004ff"], [.0625, "#a11096"], [.060, "#b42000"], [.056, "#cd4600"], [.05, "#e48300"],
            [.046, "#efa800"], [.036, "#f2ba00"], [.034, "#cd4600"], [.0325, "#b42000"], [.0318, "#8004ff"],
          ]} />
        </defs>
        <Area dataKey="range" type="stepAfter" fill="url(#bBody)" fillOpacity={1} stroke="#1a0030" strokeWidth={0.5}
          isAnimationActive={false} legendType="none" />
        <Area data={bands(bSlitT, bSlitT.map((_, i) => (i % 3 === 2 ? null : .0272)), bSlitT.map((_, i) => (i % 3 === 2 ? null : .0319)))}
          dataKey="range" type="linear" fill="#fff" fillOpacity={1} stroke="none" isAnimationActive={false} legendType="none" />
        <Line data={series(bColT, bColV)} dataKey="v" stroke="url(#bSpike)" strokeWidth={4.4} {...noDots} />
        <Area data={bands(bSpikeT, bSpikeLo, bSpikeHi)} dataKey="range" type="linear" fill="url(#bSpike)" fillOpacity={1} stroke="none"
          isAnimationActive={false} legendType="none" />
        <Scatter data={series(bStrayT, bStrayV)} dataKey="v" isAnimationActive={false} legendType="none"
          shape={(p: any) => <rect x={p.cx - 0.7} y={p.cy - 3} width={1.4} height={6} fill="#b8a0c8" />} />
        <Axes domain={domain} ticks={bTicks} fmt={(v) => v.toFixed(3)} />
        <Caption text="(b)" />
        <AxisName x={57} y={163} main={"\u03b8"} sub="a, 1" italic />
      </ComposedChart>
    </div>
  );
}

function PanelC() {
  const domain = [-20, 25];
  return (
    <div style={{ position: "absolute", left: 0, top: 359 }}>
      <ComposedChart {...chartProps} data={bands(cT, cBottom, cTop)}>
        <defs>
          <Ramp id="cBody" domain={domain} stops={[
            [22, "#b42000"], [12, "#b42000"], [9, "#c03000"], [7, "#c84000"], [5, "#d86000"], [3, "#e48000"], [1, "#eca000"],
            [-1, "#f2b400"], [-3, "#f5c000"], [-5, "#f5c400"], [-7, "#eca000"], [-8, "#e07000"], [-9, "#c83c00"], [-10, "#b42000"], [-16, "#b83000"],
          ]} />
          {softDefs}
        </defs>
        <Area dataKey="range" type="stepAfter" fill="url(#cBody)" fillOpacity={1} stroke="#7a18e0" strokeWidth={1.6}
          isAnimationActive={false} legendType="none" />
        <Scatter data={cells(cPatchRows, cPatches)} dataKey="v" isAnimationActive={false} legendType="none" shape={patchShape(11, 17, 1)} />
        <Line data={series(cGlowT, cGlowV)} dataKey="v" stroke="#fad000" strokeOpacity={0.38} strokeWidth={3.5} filter="url(#soft)" {...noDots} />
        <Area data={bands(cHoleT, cHoleLo, cHoleHi)} dataKey="range" type="stepAfter" fill="#fff" fillOpacity={1} stroke="#7a18e0" strokeWidth={1}
          isAnimationActive={false} legendType="none" />
        <Axes domain={domain} ticks={cTicks} fmt={(v) => (v < 0 ? "\u2212" : "") + (Math.abs(v) / 1e5).toFixed(5)} />
        <Caption text="(c)" />
        <AxisName x={24} y={178} main={"\u03a8"} sub="o, 2" italic={false} />
      </ComposedChart>
    </div>
  );
}

function PanelD() {
  const domain = [0.03, 0.22];
  return (
    <div style={{ position: "absolute", left: 553, top: 359 }}>
      <ComposedChart {...chartProps} data={bands(yearly(dTop), dBottom, dTop)}>
        <defs>
          <Ramp id="dBody" domain={domain} stops={[
            [.20, "#a11096"], [.195, "#b42000"], [.189, "#b42000"], [.186, "#cd4600"], [.183, "#e48300"], [.18, "#eea800"], [.176, "#f0b400"],
            [.17, "#e99800"], [.16, "#e48300"], [.14, "#de7400"], [.12, "#dc6c00"], [.10, "#de7400"], [.08, "#e48300"], [.07, "#e89400"],
            [.065, "#eaa000"], [.06, "#e48300"], [.056, "#cd4600"], [.053, "#b42000"], [.042, "#b42000"],
          ]} />
          {softDefs}
        </defs>
        <Area dataKey="range" type="stepAfter" fill="url(#dBody)" fillOpacity={1} stroke="#7a18e0" strokeWidth={1.2}
          isAnimationActive={false} legendType="none" />
        <Scatter data={cells(dPatchRows, dPatches)} dataKey="v" isAnimationActive={false} legendType="none" shape={patchShape(11, 20, 0.55)} />
        <Line data={series(dEmberT, dEmberV)} dataKey="v" stroke="#c03800" strokeOpacity={0.3} strokeWidth={3.5} filter="url(#soft)" {...noDots} />
        <Line data={series(dHairT, dHairV)} dataKey="v" stroke="#c84400" strokeOpacity={0.4} strokeWidth={1.4} filter="url(#hair)" {...noDots} />
        <Line data={series(dGlowT, dGlowV)} dataKey="v" stroke="#f5b800" strokeOpacity={0.5} strokeWidth={2} filter="url(#hair)" {...noDots} />
        <Axes domain={domain} ticks={dTicks} fmt={(v) => v.toFixed(2)} />
        <Caption text="(d)" />
        <AxisName x={68} y={161} main="T" sub="o, 2" italic />
      </ComposedChart>
    </div>
  );
}

export default function App() {
  return (
    <div style={{ position: "absolute", left: 0, top: 0, width: 1129, height: 712, overflow: "hidden", background: "#fff" }}>
      <PanelA />
      <PanelB />
      <PanelC />
      <PanelD />
      <ColorBar left={516} top={0} vmax={0.55} id="cb1" />
      <ColorBar left={1068} top={0} vmax={0.23} id="cb2" />
      <ColorBar left={516} top={359} vmax={0.15} id="cb3" />
      <ColorBar left={1068} top={359} vmax={0.15} id="cb4" />
    </div>
  );
}
